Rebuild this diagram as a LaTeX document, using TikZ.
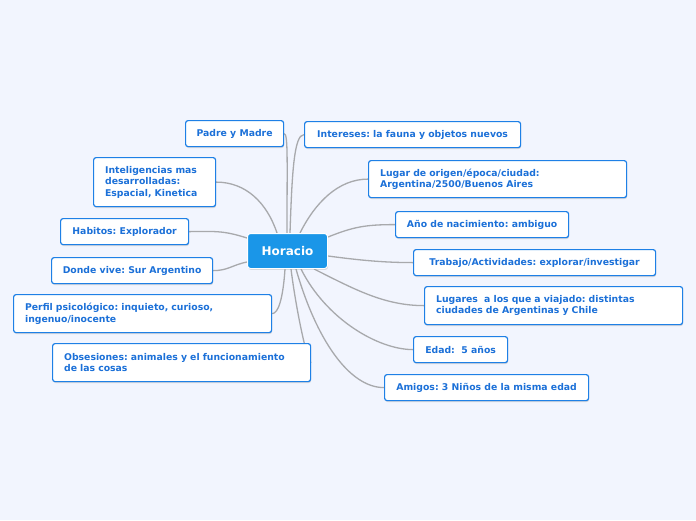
\documentclass[tikz,border=0pt]{standalone}
\usepackage{fontspec}
\setmainfont{DejaVu Sans}[BoldFont={DejaVu Sans Bold}]
\usetikzlibrary{shadows}
\definecolor{bg}{HTML}{F2F5FE}
\definecolor{bx}{HTML}{1E80E6}
\definecolor{tx}{HTML}{1B70D8}
\definecolor{hf}{HTML}{1A96E8}
\definecolor{ln}{HTML}{A8A9AC}
\pgfdeclarelayer{back}
\pgfdeclarelayer{lines}
\pgfsetlayers{back,lines,main}
\frenchspacing
\tikzset{
  topic/.style={draw=bx, line width=1.2pt, fill=white, rounded corners=2.5pt, anchor=north west,
    text=tx, font=\fontsize{9.3}{11.6}\selectfont\bfseries, inner sep=0pt,
    drop shadow={shadow xshift=0.6pt, shadow yshift=-1.4pt, opacity=0.22, fill=black!60}},
  one/.style={align=center},
  multi/.style={align=left, inner xsep=11.5pt},
  conn/.style={draw=ln, line width=1.3pt},
  central/.style={fill=hf, draw=white, line width=1pt, rounded corners=3pt, anchor=north west,
    text=white, font=\fontsize{12}{14}\selectfont\bfseries, inner sep=0pt,
    minimum width=80pt, minimum height=35pt,
    drop shadow={shadow xshift=0.6pt, shadow yshift=-1.4pt, opacity=0.22, fill=black!60}}
}
\begin{document}
\begin{tikzpicture}[x=1pt,y=-1pt]
\begin{pgfonlayer}{back}
\fill[bg] (0,0) rectangle (696,520);
\end{pgfonlayer}
\useasboundingbox (0,0) rectangle (696,520);

\node[central] (hor) at (247,233) {Horacio};

\node[topic, one, minimum width=98pt, minimum height=26pt] (pm) at (185,120) {Padre y Madre};
\node[topic, one, minimum width=216pt, minimum height=26pt] (int) at (304,121) {Intereses: la fauna y objetos nuevos};
\node[topic, multi, text width=99pt, minimum height=49pt] (intel) at (93,157) {Inteligencias mas\\desarrolladas:\\Espacial, Kinetica};
\node[topic, multi, text width=235pt, minimum height=37pt] (lug) at (368,160) {Lugar de origen/época/ciudad:\\Argentina/2500/Buenos Aires};
\node[topic, one, minimum width=128pt, minimum height=26pt] (hab) at (60,218) {Habitos: Explorador};
\node[topic, one, minimum width=173pt, minimum height=26pt] (ano) at (395,211) {Año de nacimiento: ambiguo};
\node[topic, one, minimum width=161pt, minimum height=26pt] (don) at (51,257) {Donde vive: Sur Argentino};
\node[topic, one, minimum width=242pt, minimum height=26pt] (trab) at (413,249) {Trabajo/Actividades: explorar/investigar};
\node[topic, multi, text width=235pt, minimum height=38pt] (perf) at (13,294) {Perfil psicológico: inquieto, curioso,\\ingenuo/inocente};
\node[topic, multi, text width=235pt, minimum height=38pt] (lugs) at (424,286) {Lugares\ \ a los que a viajado: distintas\\ciudades de Argentinas y Chile};
\node[topic, multi, text width=235pt, minimum height=38pt] (obs) at (52,343) {Obsesiones: animales y el funcionamiento\\de las cosas};
\node[topic, one, minimum width=94pt, minimum height=26pt] (edad) at (413,336) {Edad:\ \ 5 años};
\node[topic, one, minimum width=204pt, minimum height=26pt] (ami) at (384,374) {Amigos: 3 Niños de la misma edad};

\begin{pgfonlayer}{lines}
% top side
\draw[conn] ([xshift=40pt]hor.north west) .. controls +(0,-70) and +(4,0) .. (pm.east);
\draw[conn] ([xshift=43pt]hor.north west) .. controls +(2,-60) and +(-10,0) .. (int.west);
\draw[conn] ([xshift=30pt]hor.north west) .. controls +(-10,-30) and +(30,0) .. (intel.east);
\draw[conn] ([xshift=53pt]hor.north west) .. controls +(15,-30) and +(-30,0) .. (lug.west);
% sides
\draw[conn] ([yshift=-4pt]hor.north east) .. controls +(25,-10) and +(-30,0) .. (ano.west);
\draw[conn] ([yshift=-23pt]hor.north east) .. controls +(30,4) and +(-30,0) .. (trab.west);
\draw[conn] ([yshift=-5pt]hor.north west) .. controls +(-25,-8) and +(25,0) .. (hab.east);
\draw[conn] ([yshift=-29pt]hor.north west) .. controls +(-15,3) and +(15,0) .. (don.east);
% bottom side
\draw[conn] ([xshift=38pt]hor.south west) .. controls +(-2,30) and +(6,0) .. (perf.east);
\draw[conn] ([xshift=44pt]hor.south west) .. controls +(5,40) and +(-4,0) .. (obs.east);
\draw[conn] ([xshift=67pt]hor.south west) .. controls +(40,20) and +(-40,0) .. (lugs.west);
\draw[conn] ([xshift=54pt]hor.south west) .. controls +(25,50) and +(-35,0) .. (edad.west);
\draw[conn] ([xshift=49pt]hor.south west) .. controls +(20,70) and +(-35,0) .. (ami.west);
\end{pgfonlayer}
\end{tikzpicture}
\end{document}
